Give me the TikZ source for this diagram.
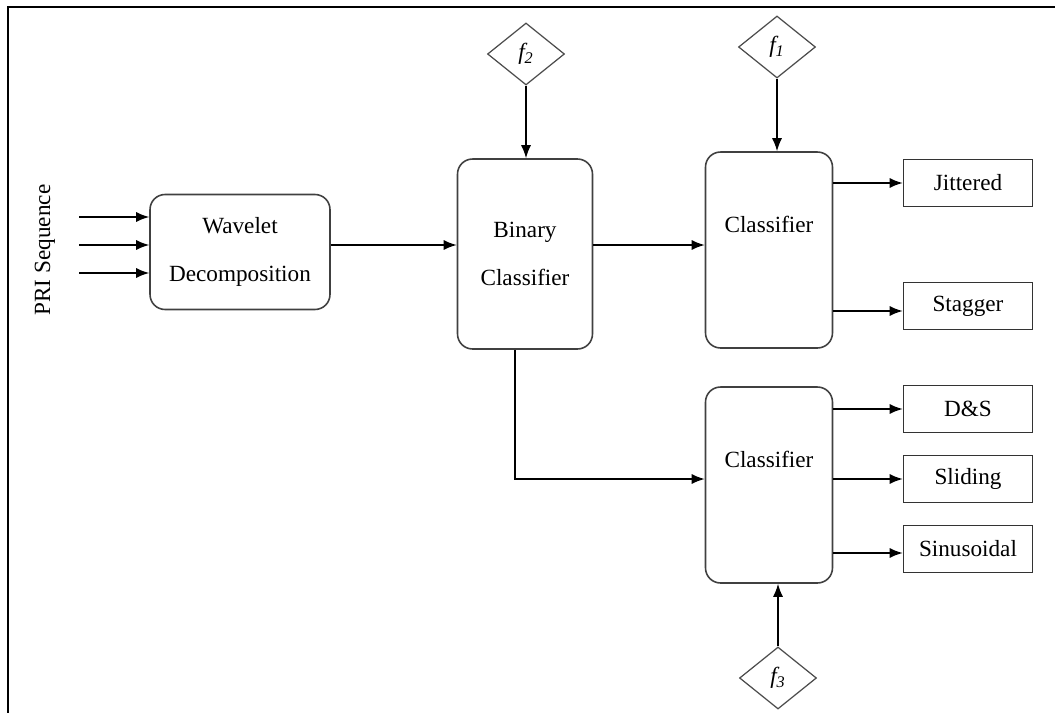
\documentclass[tikz,border=0pt]{standalone}
\usepackage{fontspec}
\setmainfont{Liberation Serif}
\usetikzlibrary{shapes.geometric,arrows.meta}

\tikzset{
  blk/.style={draw=black!75, line width=0.9pt, rounded corners=0.3cm, align=center},
  clsbox/.style={blk, minimum width=2.54cm, minimum height=3.92cm, text height=0.4cm, text depth=1.1cm},
  outbox/.style={draw=black!80, line width=0.9pt, minimum width=2.58cm, minimum height=0.94cm},
  feat/.style={draw=black!70, line width=0.7pt, diamond, inner sep=0pt, minimum width=1.54cm, minimum height=1.24cm},
  arr/.style={-{Latex[length=2.6mm,width=2mm]}, line width=0.8pt},
}

\begin{document}
\begin{tikzpicture}[x=0.02cm, y=-0.02cm, font=\fontsize{13.2}{27.5}\selectfont]
    \useasboundingbox (0,0) rectangle (1055,713);
    \draw [line width=1.2pt] (8,713)--(8,7)--(1055,7);

    % main blocks
    \node [blk, minimum width=3.6cm, minimum height=2.3cm] (wav) at (240,252) {Wavelet\\Decomposition};
    \node [blk, minimum width=2.7cm, minimum height=3.8cm] (bin) at (525,254) {Binary\\Classifier};
    \node [clsbox] (cls1) at (769,250) {Classifier};
    \node [clsbox] (cls2) at (769,485) {Classifier};

    % features
    \node [feat] (f2) at (526,54) {\itshape f\textsubscript{2}};
    \node [feat] (f1) at (777,47) {\itshape f\textsubscript{1}};
    \node [feat] (f3) at (778,678) {\itshape f\textsubscript{3}};

    % outputs
    \node [outbox] (jit) at (968,183) {Jittered};
    \node [outbox] (stg) at (968,306) {Stagger};
    \node [outbox] (ds) at (968,409) {D\&S};
    \node [outbox] (sld) at (968,479) {Sliding};
    \node [outbox] (sin) at (968,549) {Sinusoidal};

    \node [rotate=90] (pri) at (45,250) {PRI Sequence};
    \foreach \i/\y in {1/217,2/245,3/273}{
      \coordinate (in\i) at (79,\y);
      \draw [arr] (in\i)--(in\i -| wav.west);
    }

    \coordinate (wo) at ([yshift=0.14cm]wav.east);
    \draw [arr] (wo)--(wo -| bin.west);
    \coordinate (bo) at ([yshift=0.18cm]bin.east);
    \draw [arr] (bo)--(bo -| cls1.west);
    \coordinate (bd) at ([xshift=-0.2cm]bin.south);
    \draw [arr] (bd) |- ([yshift=0.12cm]cls2.west);

    \draw [arr] (f2.south)--(f2.south |- bin.north);
    \draw [arr] (f1.south)--(f1.south |- cls1.north);
    \draw [arr] (f3.north)--(f3.north |- cls2.south);

    \draw [arr] (jit.west -| cls1.east)--(jit.west);
    \draw [arr] ([yshift=-0.1cm]stg.west -| cls1.east)--([yshift=-0.1cm]stg.west);
    \draw [arr] (ds.west -| cls2.east)--(ds.west);
    \draw [arr] (sld.west -| cls2.east)--(sld.west);
    \draw [arr] ([yshift=-0.08cm]sin.west -| cls2.east)--([yshift=-0.08cm]sin.west);
\end{tikzpicture}
\end{document}
